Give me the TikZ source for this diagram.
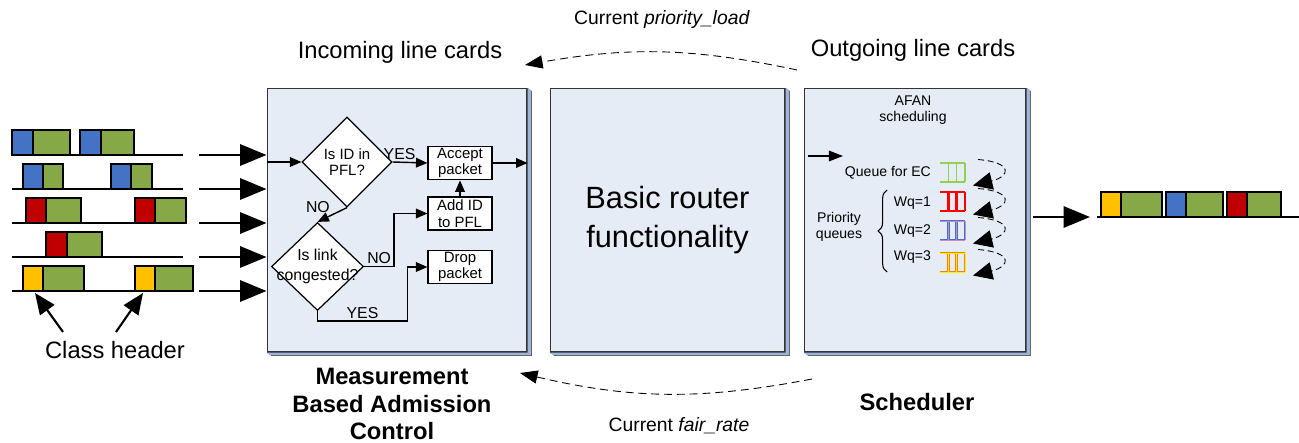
\documentclass[tikz,border=0pt]{standalone}
\usepackage{fontspec}
\setmainfont{Liberation Sans}
\usetikzlibrary{positioning,arrows.meta,shapes.geometric,decorations.pathreplacing}

\definecolor{hdrblue}{HTML}{4472C4}
\definecolor{hdrred}{HTML}{C00000}
\definecolor{hdryellow}{HTML}{FFC000}
\definecolor{payload}{HTML}{86A846}
\definecolor{cardfill}{HTML}{E6ECF6}
\definecolor{cardside}{HTML}{9CB4D8}
\definecolor{ecgreen}{HTML}{92D050}

\newcommand{\fsz}[2]{\fontsize{#1}{#2}\selectfont}

% packet: header #1..#2, payload #2..#3, bottom edge at #4, header colour #5
\newcommand{\pkt}[5]{%
  \filldraw[pktline, fill=#5] (#1,#4) rectangle (#2,#4-25);
  \filldraw[pktline, fill=payload] (#2,#4) rectangle (#3,#4-25);}

% bevel on the right and bottom of a line card
\newcommand{\cardedge}[1]{%
  \fill[cardside] (#1.north east) -- ++(4,3) |- ([shift={(4,3)}]#1.south west) -- (#1.south west) -- (#1.south east) -- cycle;
  \draw[black!60, line width=0.4pt] ([shift={(4,3)}]#1.north east) |- ([shift={(4,3)}]#1.south west);}

\tikzset{
  qbuf/.pic={\draw[pic actions] (12.5,-9.5) -- (-12.5,-9.5) (-12.5,9.5) -- (12.5,9.5)
    (-4,-9.5) -- (-4,9.5) (4,-9.5) -- (4,9.5) (12.5,-9.5) -- (12.5,9.5);}
}

\begin{document}
\begin{tikzpicture}[x=0.02cm, y=-0.02cm,
    pktline/.style={draw=black, line width=0.9pt},
    wire/.style={line width=0.6pt},
    card/.style={draw=black!80, fill=cardfill, line width=0.6pt, inner sep=0pt, minimum height=5.28cm},
    decision/.style={diamond, draw, fill=white, line width=0.7pt, inner sep=0pt},
    dtext/.style={align=center, inner sep=0pt, font=\fsz{8.5}{9.5}},
    action/.style={draw, fill=white, line width=0.7pt, align=center, inner sep=1pt,
        minimum width=1.28cm, minimum height=0.66cm, font=\fsz{8.5}{9.5}},
    answer/.style={font=\fsz{9}{10}, inner sep=1pt},
    small/.style={font=\fsz{8}{9}, align=center, inner sep=1pt},
    heading/.style={font=\fsz{13.5}{16}},
    caption/.style={font=\bfseries\fsz{13.5}{15.6}, align=center},
    fbtext/.style={font=\fsz{11}{13}},
    flow/.style={line width=0.8pt, -{Triangle[length=6.5pt,width=5.5pt]}},
    inarrow/.style={line width=1.6pt, -{Triangle[length=15pt,width=12pt]}},
    hdrarrow/.style={line width=1.2pt, -{Triangle[length=12pt,width=10pt]}},
    feedback/.style={line width=0.5pt, dash pattern=on 4.5pt off 2.8pt, -{Triangle[length=10pt,width=7.5pt]}},
    requeue/.style={line width=0.5pt, dash pattern=on 3.5pt off 2pt, -{Triangle[length=11pt,width=10pt]}}
]
\useasboundingbox (0,0) rectangle (1299,443);

% line cards
\node[card, minimum width=5.2cm] (mbac) at (397,220) {};
\node[card, minimum width=4.7cm] (router) at (667.5,220) {};
\node[card, minimum width=4.44cm] (sched) at (915,220) {};
\cardedge{mbac}
\cardedge{router}
\cardedge{sched}

\node[font=\fsz{17.5}{22.7}, align=center] (routertxt) at (router) {Basic router\\functionality};

% headings and captions
\node[heading] (incoming) at (400,52) {Incoming line cards};
\node[heading] (outgoing) at (913,50) {Outgoing line cards};
\node[heading] (hdr) at (115,350) {Class header};
\node[caption] (mbaclbl) at (392,404) {Measurement\\Based Admission\\Control};
\node[caption] (schedlbl) at (917,402) {Scheduler};
\node[fbtext] (ploadlbl) at (662,20) {Current \textit{priority\_load}};
\node[fbtext] (frate) at (679,426) {Current \textit{fair\_rate}};

% incoming flows
\foreach \y in {155,189,223,257,291}
  \draw[wire] (12,\y) -- (183,\y);
\pkt{12}{33}{70}{155}{hdrblue}
\pkt{80}{101}{134}{155}{hdrblue}
\pkt{23}{43}{63}{189}{hdrblue}
\pkt{111}{131}{152}{189}{hdrblue}
\pkt{26}{46}{81}{223}{hdrred}
\pkt{135}{155}{186}{223}{hdrred}
\pkt{46}{67}{102}{257}{hdrred}
\pkt{23}{43}{84}{291}{hdryellow}
\pkt{135}{155}{193}{291}{hdryellow}
\foreach \y in {155,189,223,257,291}
  \draw[inarrow] (199,\y) -- (mbac.west |- 0,\y);

\coordinate (yhdr1) at (35,293);
\coordinate (yhdr2) at (143,293);
\coordinate (hdrfoot1) at (63,332);
\coordinate (hdrfoot2) at (116,332);
\draw[hdrarrow] (hdrfoot1) -- (yhdr1);
\draw[hdrarrow] (hdrfoot2) -- (yhdr2);

% admission control
\node[decision, minimum width=1.8cm, minimum height=1.8cm] (inpfl) at (347,162) {};
\node[dtext] (inpfltxt) at (inpfl) {Is ID in\\PFL?};
\node[decision, minimum width=1.84cm, minimum height=1.76cm] (congest) at (317.5,266.5) {};
\node[dtext, font=\fsz{9}{11}] (congesttxt) at (congest) {Is link\\congested?};
\node[action] (accept) at (460,163) {Accept\\packet};
\node[action] (addid) at (460,213.5) {Add ID\\to PFL};
\node[action] (drop) at (460,267) {Drop\\packet};

\draw[flow] (inpfl.west -| mbac.west) -- (inpfl.west);
\draw[flow] (inpfl.east) -- node[answer, above, pos=0.2] {YES} (accept.west);
\draw[flow] (accept.east) -- (accept.east -| mbac.east);
\draw[flow] (addid.north) -- (accept.south);
\draw[flow] (inpfl.south) -- node[answer, above left] {NO} (congest.north);
\draw[flow] (congest.east) -- node[answer, above] {NO} ++(30,0) |- (addid.west);
\draw[flow] (congest.south) -- ++(0,10) -- node[answer, above] {YES} ++(90,0) |- (drop.west);

% scheduler
\node[small] (afan) at (913,110) {AFAN\\scheduling};
\coordinate (schin) at (808,156);
\draw[line width=0.7pt, -{Triangle[length=8pt,width=6pt]}] (schin) -- ++(35,0);
\node[small, anchor=east] (qec) at (933,173) {Queue for EC};
\node[small, anchor=east] (wq1) at (933,203) {Wq=1};
\node[small, anchor=east] (wq2) at (933,231) {Wq=2};
\node[small, anchor=east] (wq3) at (933,257) {Wq=3};
\node[small] (prio) at (839,227) {Priority\\queues};
\draw[decorate, decoration={brace, amplitude=5pt}, line width=0.6pt] (887,272) -- (887,190);

\pic[draw=ecgreen, line width=0.8pt] at (952.5,172.5) {qbuf};
\pic[draw=red, line width=1.2pt] at (952.5,201.5) {qbuf};
\pic[draw=hdrblue, double=violet!45, line width=0.45pt, double distance=0.5pt] at (952.5,230.5) {qbuf};
\pic[draw=orange, double=yellow, line width=0.45pt, double distance=0.5pt] at (952.5,262.5) {qbuf};
\foreach \yc in {172.5,201.5,230.5,262.5}
  \draw[requeue] (978,\yc-13) .. controls (1014,\yc-10) and (1010,\yc+4) .. (973,\yc+13);

% outgoing flow
\coordinate (outl) at (1097,217);
\draw[wire] (outl) -- (1299,217);
\pkt{1101}{1121}{1162}{217}{hdryellow}
\pkt{1166}{1186}{1223}{217}{hdrblue}
\pkt{1227}{1247}{1281}{217}{hdrred}
\draw[inarrow] ([xshift=0.12cm]sched.east |- outl) -- ([xshift=-0.14cm]outl);

% feedback between the cards
\coordinate (plfrom) at (797,70);
\coordinate (plto) at (525,65);
\coordinate (frfrom) at (812,379);
\coordinate (frto) at (520,373);
\draw[feedback] (plfrom) to[bend right=11] (plto);
\draw[feedback] (frfrom) to[bend left=12] (frto);
\end{tikzpicture}
\end{document}
